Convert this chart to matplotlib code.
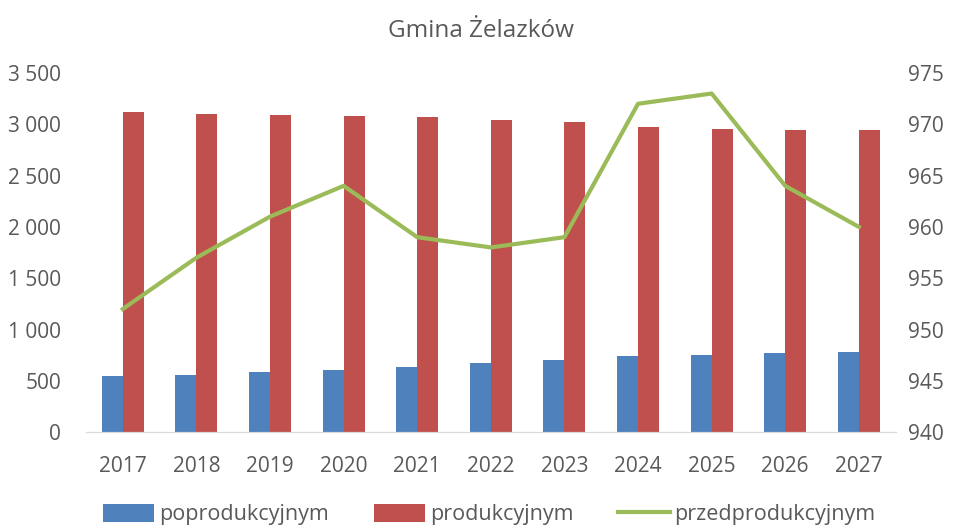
import numpy as np
import matplotlib.pyplot as plt
from matplotlib.ticker import FuncFormatter

years = ['2017', '2018', '2019', '2020', '2021', '2022', '2023', '2024', '2025', '2026', '2027']
poprodukcyjnym = [546, 559, 582, 607, 634, 669, 705, 744, 754, 767, 777]
produkcyjnym = [3116, 3102, 3090, 3080, 3067, 3041, 3018, 2970, 2957, 2940, 2940]
przedprodukcyjnym = [952, 957, 961, 964, 959, 958, 959, 972, 973, 964, 960]

plt.rcParams['font.family'] = ['Open Sans', 'DejaVu Sans']
grey = '#595959'

fig = plt.figure(figsize=(9.61, 5.27), dpi=100)
ax = fig.add_axes([0.0895, 0.180, 0.8425, 0.6815])
x = np.arange(len(years))
w = 0.285

b1 = ax.bar(x - w / 2, poprodukcyjnym, w, color='#4F81BD', label='poprodukcyjnym')
b2 = ax.bar(x + w / 2, produkcyjnym, w, color='#C0504D', label='produkcyjnym')
ax.set_ylim(0, 3500)
ax.set_yticks(np.arange(0, 3501, 500))
ax.yaxis.set_major_formatter(FuncFormatter(lambda v, p: f'{int(v):,}'.replace(',', ' ')))
ax.set_xlim(-0.5, len(years) - 0.5)
ax.set_xticks(x)
ax.set_xticklabels(years)

ax2 = ax.twinx()
l1, = ax2.plot(x, przedprodukcyjnym, color='#9BBB59', lw=3, label='przedprodukcyjnym')
ax2.set_ylim(940, 975)
ax2.set_yticks(np.arange(940, 976, 5))

for a in (ax, ax2):
    for s in ['top', 'left', 'right']:
        a.spines[s].set_visible(False)
    a.spines['bottom'].set_color('#d9d9d9')
    a.tick_params(length=0, labelsize=15, labelcolor=grey)
ax.tick_params(axis='x', pad=17)
ax.tick_params(axis='y', pad=18)
ax2.tick_params(axis='y', pad=9)

fig.suptitle('Gmina Żelazków', x=0.5, y=0.963, fontsize=17.5, color=grey)
fig.legend([b1, b2, l1], ['poprodukcyjnym', 'produkcyjnym', 'przedprodukcyjnym'],
           loc='lower center', bbox_to_anchor=(0.509, -0.033), ncol=3, frameon=False,
           fontsize=15.5, labelcolor=grey, handlelength=2.4, handleheight=0.9,
           handletextpad=0.2, columnspacing=2.1)

fig.savefig('out.png', dpi=100)
